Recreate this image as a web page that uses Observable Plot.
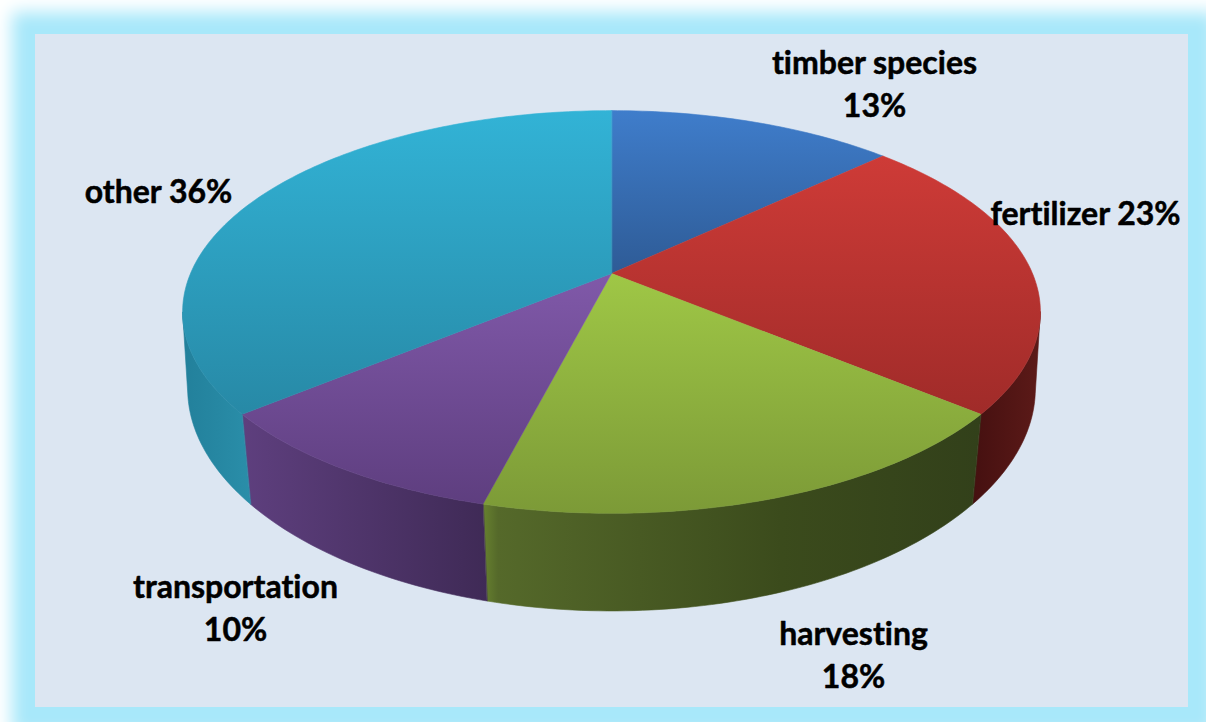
<!DOCTYPE html>
<html>
<head>
<meta charset="utf-8">
<script src="https://cdn.jsdelivr.net/npm/d3@7"></script>
<script src="https://cdn.jsdelivr.net/npm/@observablehq/plot@0.6"></script>
<style>
  html, body { margin: 0; padding: 0; background: #fff; overflow: hidden; }
  #stage { position: relative; width: 1206px; height: 722px; overflow: hidden; }
  #panel {
    position: absolute; left: 35px; top: 34px; width: 1153px; height: 673px;
    background: #dce6f2;
    box-shadow: 2px 3px 16px 25px #a8e8fa;
  }
  #chart { position: absolute; left: 0; top: 0; }
  #chart text { font-variant-ligatures: none; }
  g[aria-label="pie shadow"] { filter: blur(2.5px); }
  g[aria-label="rim light"] { filter: blur(0.5px); }
</style>
</head>
<body>
<div id="stage"><div id="panel"></div><div id="chart"></div></div>
<script>
// Cost shares, clockwise from twelve o'clock
const categories = ["timber species", "fertilizer", "harvesting", "transportation", "other"];
const shares = [13, 23, 18, 10, 36];
const labelBreaks = ["\n", " ", "\n", "\n", " "];

const topColors = [
  ["#3f7dcb", "#2e5b96"],
  ["#ce3b37", "#a02b29"],
  ["#9fc746", "#7c9a37"],
  ["#8059a9", "#5e3e7f"],
  ["#32b3d6", "#2789a6"]
];
const sideColors = [
  [["0", "#2a4f80"], ["1", "#23436e"]],
  [["0", "#451010"], ["1", "#5c1a18"]],
  [["0", "#67812f"], ["0.03", "#55692a"], ["0.6", "#3b4b1c"], ["1", "#32401a"]],
  [["0", "#5e3f7e"], ["1", "#3f2a56"]],
  [["0", "#22809b"], ["1", "#2a8ea9"]]
];
const rimColors = ["#4a86d0", "#c8524e", "#a4c552", "#9374bb", "#3fb5d1"];
const rimSpans = [null, null, [129.6, 194.4], [194.4, 230.4], [230.4, 250]];

const labelAnchors = [[874, 81], [1085, 211], [853, 652], [235, 605], [158, 189]];

// Perspective of the disc: angle in degrees -> screen position
const center = [611, 273];
const radiusX = 421, radiusY = 194, tilt = 0.191, wall = 79;

function rimPoint(deg, lower) {
  const t = deg * Math.PI / 180;
  const u = Math.sin(t), v = -Math.cos(t);
  const d = 1 - tilt * v;
  const x = radiusX * u / d, y = radiusY * v / d;
  const shrink = 1 - (0.0075 + 0.024 * Math.max(v, 0));
  return lower
    ? {x: center[0] + x * shrink, y: center[1] + y + wall / d}
    : {x: center[0] + x, y: center[1] + y};
}
const arc = (from, to, lower) =>
  d3.range(0, 1 + 1e-9, 1 / Math.max(2, Math.ceil(Math.abs(to - from)))).map((f) => rimPoint(from + (to - from) * f, lower));

// Slice boundaries
let run = 0;
const slices = categories.map((name, i) => {
  const start = run * 3.6;
  run += shares[i];
  return {name, i, start, end: run * 3.6, share: shares[i]};
});

// The wall is visible between the two angles where the rim turns back
const sideFrom = 101, sideTo = 259;
const clipTo = (s, lo, hi) => [Math.max(s.start, lo), Math.min(s.end, hi)];

const topShape = (s) => [{x: center[0], y: center[1]}, ...arc(s.start, s.end, false)];
const sideShape = (s) => {
  const [a, b] = clipTo(s, sideFrom, sideTo);
  return a < b ? [...arc(a, b, false), ...arc(b, a, true)] : [];
};
const rimLine = (s) => rimSpans[s.i] ? arc(rimSpans[s.i][0], rimSpans[s.i][1], false) : [];

// Gradients shared by the slice faces and walls
function gradients() {
  const g = d3.create("svg:defs");
  const add = (id, horizontal, stops) => {
    const grad = g.append("linearGradient").attr("id", id)
      .attr("x1", 0).attr("y1", 0)
      .attr("x2", horizontal ? 1 : 0).attr("y2", horizontal ? 0 : 1);
    stops.forEach(([o, c]) => grad.append("stop").attr("offset", o).attr("stop-color", c));
  };
  topColors.forEach((c, i) => add(`top${i}`, false, [["0", c[0]], ["1", c[1]]]));
  sideColors.forEach((c, i) => add(`side${i}`, true, c));
  return g.node();
}

const closed = {x: "x", y: "y", curve: "linear-closed"};
const labels = slices.map((s, i) => ({
  text: `${s.name}${labelBreaks[i]}${s.share}%`,
  x: labelAnchors[i][0],
  y: labelAnchors[i][1]
}));

const plot = Plot.plot({
  width: 1206,
  height: 722,
  margin: 0,
  style: {background: "transparent"},
  x: {domain: [0, 1206], range: [0, 1206], axis: null},
  y: {domain: [0, 722], range: [0, 722], axis: null},
  marks: [
    gradients,
    Plot.line([...arc(sideFrom, sideTo, true), ...arc(sideTo, sideFrom, false)], {
      ...closed, fill: "#5b6675", fillOpacity: 0.8, stroke: "none", dy: 3, ariaLabel: "pie shadow"
    }),
    ...slices.map((s) => Plot.line(sideShape(s), {
      ...closed, fill: `url(#side${s.i})`, stroke: `url(#side${s.i})`, strokeWidth: 0.6
    })),
    ...slices.map((s) => Plot.line(topShape(s), {
      ...closed, fill: `url(#top${s.i})`, stroke: `url(#top${s.i})`, strokeWidth: 0.6
    })),
    ...slices.map((s) => Plot.line(rimLine(s), {
      x: "x", y: "y", stroke: rimColors[s.i], strokeWidth: 1.5, strokeOpacity: 0.8, ariaLabel: "rim light"
    })),
    Plot.text(labels, {
      x: "x", y: "y", text: "text",
      fontFamily: "Lato", fontWeight: 700, fontSize: 32,
      stroke: "#000", strokeWidth: 0.5,
      lineHeight: 1.34, lineAnchor: "middle", textAnchor: "middle", fill: "#000"
    })
  ]
});
document.getElementById("chart").append(plot);
</script>
</body>
</html>
